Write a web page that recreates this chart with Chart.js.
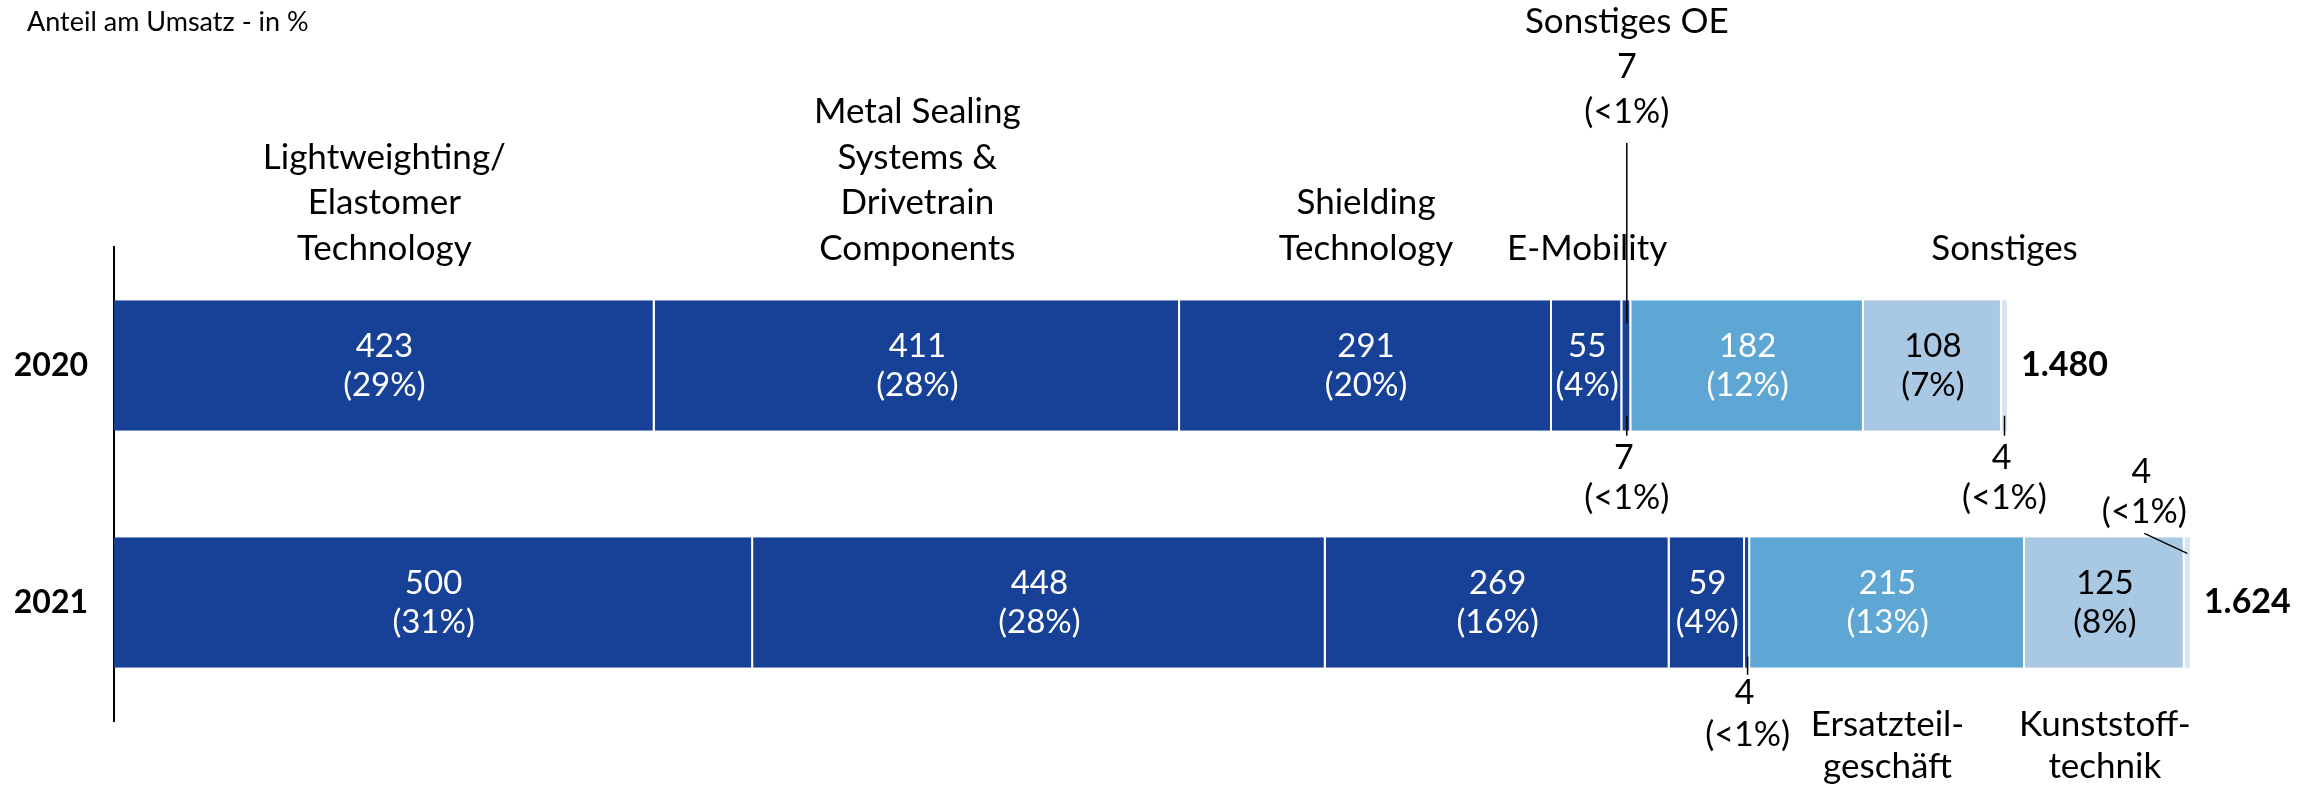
<!DOCTYPE html>
<html>
<head>
<meta charset="utf-8">
<script src="https://cdn.jsdelivr.net/npm/chart.js@4"></script>
<style>
html,body{margin:0;padding:0;background:#fff;}
#wrap{width:2318px;height:787px;}
</style>
</head>
<body>
<div id="wrap"><canvas id="c" width="2318" height="787"></canvas></div>
<script>
// ---- data ----
const years = ['2020', '2021'];
const segmentNames = ['Lightweighting/Elastomer Technology', 'Metal Sealing Systems & Drivetrain Components', 'Shielding Technology', 'E-Mobility', 'Sonstiges OE', 'Ersatzteilgeschäft', 'Kunststofftechnik', 'Sonstiges'];
const lightweighting = [423, 500];
const metalSealing = [411, 448];
const shielding = [291, 269];
const eMobility = [55, 59];
const sonstigesOE = [7, 4];
const ersatzteil = [182, 215];
const kunststoff = [108, 125];
const sonstiges = [4, 4];
const lightweightingPct = ['29%', '31%'];
const metalSealingPct = ['28%', '28%'];
const shieldingPct = ['20%', '16%'];
const eMobilityPct = ['4%', '4%'];
const sonstigesOEPct = ['<1%', '<1%'];
const ersatzteilPct = ['12%', '13%'];
const kunststoffPct = ['7%', '8%'];
const sonstigesPct = ['<1%', '<1%'];
const totals = ['1.480', '1.624'];
const titleText = 'Anteil am Umsatz - in %';
const headerLines = [
  ['Lightweighting/', 'Elastomer', 'Technology'],
  ['Metal Sealing', 'Systems &', 'Drivetrain', 'Components'],
  ['Shielding', 'Technology'],
  ['E-Mobility'],
  ['Sonstiges OE', '7', '(<1%)'],
  [],
  [],
  ['Sonstiges']
];
const bottomNames2021 = { 5: ['Ersatzteil-', 'geschäft'], 6: ['Kunststoff-', 'technik'] };

const seriesValues = [lightweighting, metalSealing, shielding, eMobility, sonstigesOE, ersatzteil, kunststoff, sonstiges];
const seriesPct = [lightweightingPct, metalSealingPct, shieldingPct, eMobilityPct, sonstigesOEPct, ersatzteilPct, kunststoffPct, sonstigesPct];

// ---- styles ----
const DARK = '#174196';
const MID = '#5EA7D5';
const LIGHT = '#A8C8E3';
const PALE = '#D6E4F3';
const colors = [DARK, DARK, DARK, DARK, DARK, MID, LIGHT, PALE];
const labelColors = ['#fff', '#fff', '#fff', '#fff', '#fff', '#fff', '#000', '#000'];
const FONT = 'Lato';
const HEAD = 35, INSIDE = 33, SMALL = 34;

Chart.defaults.font.family = FONT;

const annot = {
  id: 'annot',
  afterDatasetsDraw(chart) {
    const ctx = chart.ctx;
    const seg = (ds, idx) => {
      const el = chart.getDatasetMeta(ds).data[idx];
      const p = el.getProps(['x', 'y', 'base', 'height'], true);
      const left = Math.min(p.base, p.x), right = Math.max(p.base, p.x);
      return { cx: (left + right) / 2, left, right, top: p.y - p.height / 2, bottom: p.y + p.height / 2, cy: p.y };
    };
    const text = (t, x, y, opts = {}) => {
      ctx.save();
      ctx.font = (opts.bold ? 'bold ' : '') + (opts.size || HEAD) + 'px ' + FONT;
      ctx.fillStyle = opts.color || '#000';
      ctx.textAlign = opts.align || 'center';
      ctx.textBaseline = 'middle';
      ctx.fillText(t, x, y);
      ctx.restore();
    };
    const line = (x1, y1, x2, y2) => {
      ctx.save();
      ctx.strokeStyle = '#000';
      ctx.lineWidth = 1.5;
      ctx.beginPath();
      ctx.moveTo(x1, y1);
      ctx.lineTo(x2, y2);
      ctx.stroke();
      ctx.restore();
    };

    // title
    text(titleText, 27, 22, { size: 27, align: 'left' });

    // inside labels
    const inside = [0, 1, 2, 3, 5, 6];
    for (let j = 0; j < years.length; j++) {
      for (const ds of inside) {
        const s = seg(ds, j);
        text(String(seriesValues[ds][j]), s.cx, s.cy - 19, { color: labelColors[ds], size: INSIDE });
        text('(' + seriesPct[ds][j] + ')', s.cx, s.cy + 20, { color: labelColors[ds], size: INSIDE });
      }
      // totals
      const last = seg(seriesValues.length - 1, j);
      text(totals[j], last.right + 14, last.cy, { bold: true, align: 'left', size: 34 });
    }

    // headers above the 2020 bar
    const s0 = seg(0, 0);
    for (let ds = 0; ds < headerLines.length; ds++) {
      const lines = headerLines[ds];
      if (!lines.length || ds === 4) continue;
      const s = seg(ds, 0);
      for (let k = 0; k < lines.length; k++) {
        const y = s0.top - 52 - (lines.length - 1 - k) * 45.5;
        text(lines[k], s.cx, y);
      }
    }
    // Sonstiges OE header with leader line
    {
      const s = seg(4, 0);
      const lines = headerLines[4];
      for (let k = 0; k < lines.length; k++) text(lines[k], s.cx, 22 + k * 45, { size: k === 0 ? HEAD : SMALL });
      line(s.cx, 143, s.cx, s.top + 23);
      // below 2020
      text(String(seriesValues[4][0]), s.cx - 3, s.bottom + 27, { size: SMALL });
      text('(' + seriesPct[4][0] + ')', s.cx, s.bottom + 67, { size: SMALL });
      line(s.cx, s.bottom - 15, s.cx, s.bottom + 5);
    }
    // Sonstiges 2020 below
    {
      const s = seg(7, 0);
      text(String(seriesValues[7][0]), s.cx - 3, s.bottom + 27, { size: SMALL });
      text('(' + seriesPct[7][0] + ')', s.cx, s.bottom + 67, { size: SMALL });
      line(s.cx, s.bottom - 15, s.cx, s.bottom + 5);
    }
    // Sonstiges OE 2021 below
    {
      const s = seg(4, 1);
      text(String(seriesValues[4][1]), s.cx - 3, s.bottom + 25, { size: SMALL });
      text('(' + seriesPct[4][1] + ')', s.cx, s.bottom + 67, { size: SMALL });
      line(s.cx, s.bottom - 11, s.cx, s.bottom + 7);
    }
    // Sonstiges 2021 above with diagonal leader
    {
      const s = seg(7, 1);
      const lx = s.cx - 43;
      text(String(seriesValues[7][1]), lx - 3, s.top - 65, { size: SMALL });
      text('(' + seriesPct[7][1] + ')', lx, s.top - 25, { size: SMALL });
      line(lx, s.top - 4, s.cx, s.top + 16);
    }
    // names below the 2021 bar
    for (const ds of Object.keys(bottomNames2021)) {
      const s = seg(+ds, 1);
      const lines = bottomNames2021[ds];
      for (let k = 0; k < lines.length; k++) text(lines[k], s.cx, s.bottom + 57 + k * 42);
    }
  }
};

const datasets = segmentNames.map((name, i) => ({
  label: name,
  data: seriesValues[i],
  backgroundColor: colors[i],
  borderColor: '#ffffff',
  borderWidth: { left: 0, top: 0, bottom: 0, right: i === seriesValues.length - 1 ? 0 : 2 },
  borderSkipped: false,
  categoryPercentage: 1.0,
  barPercentage: 0.55
}));

new Chart(document.getElementById('c'), {
  type: 'bar',
  data: { labels: years, datasets },
  options: {
    indexAxis: 'y',
    responsive: false,
    animation: false,
    devicePixelRatio: 1,
    layout: { padding: { top: 247, bottom: 66, left: 0, right: 31 } },
    plugins: { legend: { display: false }, tooltip: { enabled: false } },
    scales: {
      x: { stacked: true, display: false, min: 0, max: 1700 },
      y: {
        stacked: true,
        grid: { display: false, drawTicks: false },
        border: { display: true, color: '#000', width: 2 },
        ticks: { color: '#000', font: { family: FONT, size: 32, weight: 'bold' }, padding: 26 },
        afterFit(scale) { scale.width = 114; }
      }
    }
  },
  plugins: [annot]
});
</script>
</body>
</html>
